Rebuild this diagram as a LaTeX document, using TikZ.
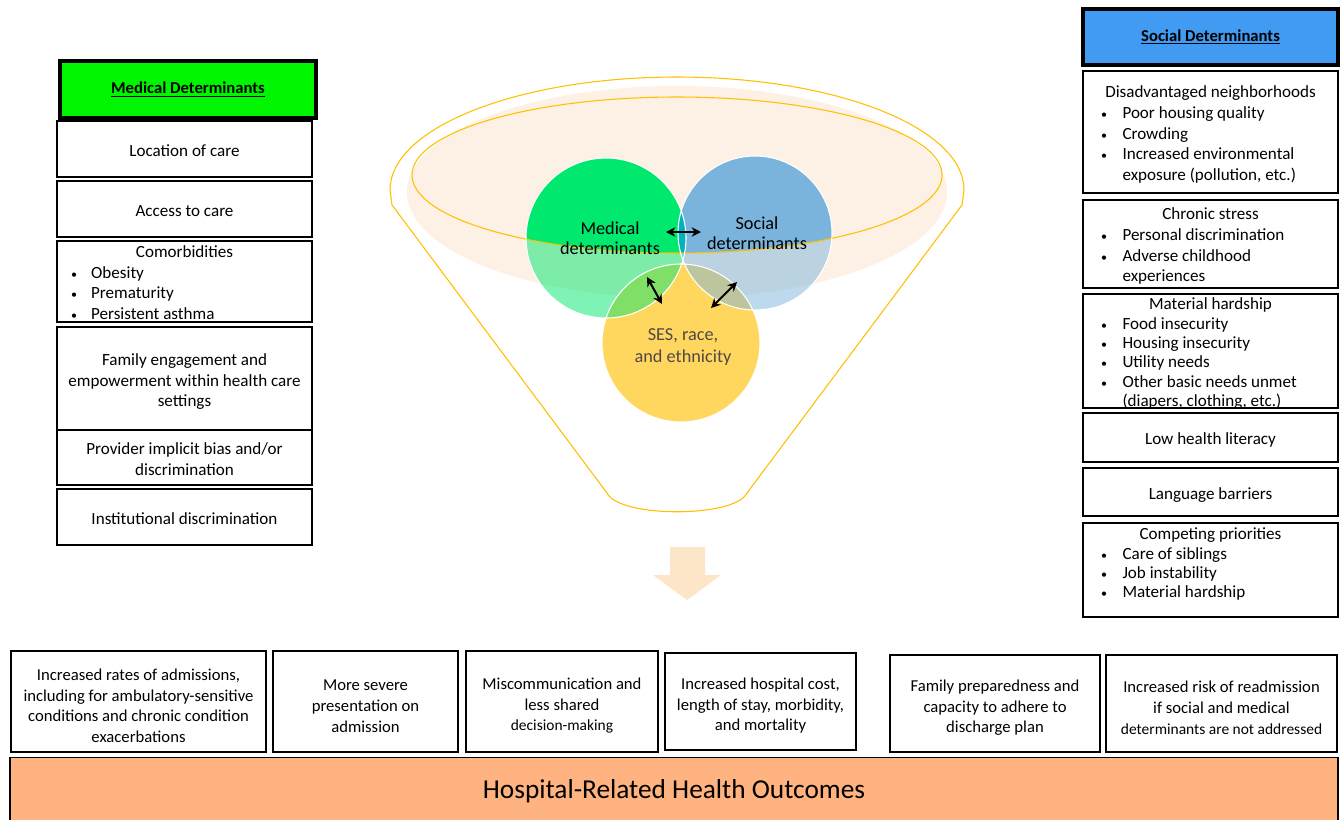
\documentclass[tikz,border=0pt]{standalone}
\usepackage{fontspec}
\setmainfont{Carlito}
\usetikzlibrary{arrows.meta}
\definecolor{medgreen}{RGB}{0,245,0}
\definecolor{socblue}{RGB}{66,155,242}
\definecolor{circgreen}{RGB}{0,232,110}
\definecolor{circblue}{RGB}{122,180,220}
\definecolor{circyellow}{RGB}{255,215,95}
\definecolor{lenscol}{RGB}{0,180,190}
\definecolor{funnelline}{RGB}{255,192,0}
\definecolor{funnelfill}{RGB}{253,239,226}
\definecolor{outcome}{RGB}{255,179,128}
\definecolor{downarrow}{RGB}{253,229,200}
\definecolor{sesgray}{RGB}{80,72,72}
\newcommand{\bul}{{\fontsize{9}{9}\selectfont\textbullet}}
\tikzset{
  cell/.style={draw, line width=1pt, inner sep=0pt, align=center,
    minimum width=191.25pt, font=\fontsize{12.8}{15.4}\selectfont},
  head/.style={cell, line width=2.6pt, font=\fontsize{12.5}{15}\selectfont\bfseries},
  outbox/.style={cell, minimum height=72.75pt, font=\fontsize{12.5}{15.5}\selectfont},
  twoway/.style={{Stealth[length=7pt,width=7pt]}-{Stealth[length=7pt,width=7pt]}, line width=1.5pt},
  circlab/.style={align=center, font=\fontsize{13.7}{15}\selectfont},
}
\begin{document}
\begin{tikzpicture}[x=0.75pt,y=-0.75pt]
\useasboundingbox (0,0) rectangle (1344,819);

\draw[funnelline, line width=0.8pt, fill=white] (390,190) arc (180:360:287 and 113)
  -- (962,205) -- (747,493) .. controls (735,518) and (619,518) .. (607,493) -- (392,205) -- cycle;
\fill[funnelfill, opacity=0.85] (677,192) ellipse (270 and 106);

\fill[circyellow] (681,343) circle (79);
\fill[circgreen, opacity=0.5] (606,238) circle (80);
\fill[circblue, opacity=0.5] (755,233) circle (77);
\begin{scope}
  \clip (677,175) ellipse (265 and 78);
  \fill[circgreen] (606,238) circle (80);
  \fill[circblue] (755,233) circle (77);
  \clip (606,238) circle (80);
  \fill[lenscol] (755,233) circle (77);
\end{scope}
\draw[funnelline, line width=0.8pt] (677,175) ellipse (265 and 78);
\draw[white, line width=0.8pt] (606,238) circle (80) (755,233) circle (77) (681,343) circle (79);

\node[circlab] (medlab) at (610,238) {Medical\\determinants};
\node[circlab] (soclab) at (757,233) {Social\\determinants};
\node[circlab, text=sesgray, font=\fontsize{13.7}{16.5}\selectfont] (seslab) at (683,347) {SES, race,\\and ethnicity};

\coordinate (ma) at (666,232);
\coordinate (sa) at (701,232);
\coordinate (mb) at (647,277);
\coordinate (yb) at (662,304);
\coordinate (sc) at (737,282);
\coordinate (yc) at (711,308);
\draw[twoway] (ma) -- (sa);
\draw[twoway] (mb) -- (yb);
\draw[twoway] (sc) -- (yc);

\fill[downarrow] (670,547) -- (705,547) -- (705,575) -- (721,575) -- (687,600) -- (653,575) -- (670,575) -- cycle;

\node[head, fill=medgreen, minimum width=192pt, minimum height=42.75pt] (medhead) at (188,89.5) {\underline{Medical Determinants}};
\node[cell, minimum height=42pt] (loc) at (184.5,149) {\rule{0pt}{11pt}Location of care};
\node[cell, minimum height=42pt] (acc) at (184.5,209) {\rule{0pt}{11pt}Access to care};
\node[cell, minimum height=60.75pt, font=\fontsize{12.8}{15.5}\selectfont] (comorb) at (184.5,281.5) {%
  \begin{tabular}{@{}p{15pt}@{}p{155pt}@{}}
  \multicolumn{2}{@{}c@{}}{\rule{0pt}{12.5pt}Comorbidities}\\
  \bul & Obesity\\
  \bul & Prematurity\\
  \bul & Persistent asthma\\[-2.85pt]
  \end{tabular}};
\node[cell, minimum height=77.25pt] (family) at (184.5,378.5) {\rule{0pt}{14pt}Family engagement and\\empowerment within health care\\settings};
\node[cell, minimum height=41.25pt] (bias) at (184.5,457.5) {\rule{0pt}{11pt}Provider implicit bias and/or\\discrimination};
\node[cell, minimum height=42pt] (inst) at (184.5,517) {\rule{0pt}{11pt}Institutional discrimination};

\node[head, fill=socblue, minimum height=42pt, line width=3pt] (sochead) at (1210.5,37) {\underline{Social Determinants}};
\node[cell, minimum height=91.5pt, font=\fontsize{12.8}{15.5}\selectfont] (neigh) at (1210.5,132) {%
  \begin{tabular}{@{}p{16pt}@{}p{148pt}@{}}
  \multicolumn{2}{@{}c@{}}{\rule{0pt}{20pt}Disadvantaged neighborhoods}\\
  \bul & Poor housing quality\\
  \bul & Crowding\\
  \bul & Increased environmental\\
  & exposure (pollution, etc.)\\[4.6pt]
  \end{tabular}};
\node[cell, minimum height=66pt, font=\fontsize{12.8}{15.5}\selectfont] (stress) at (1210.5,244) {%
  \begin{tabular}{@{}p{16pt}@{}p{148pt}@{}}
  \multicolumn{2}{@{}c@{}}{\rule{0pt}{14.7pt}Chronic stress}\\
  \bul & Personal discrimination\\
  \bul & Adverse childhood\\
  & experiences
  \end{tabular}};
\node[cell, minimum height=85.5pt, font=\fontsize{12.8}{14.55}\selectfont] (hardship) at (1210.5,351) {%
  \begin{tabular}{@{}p{16pt}@{}p{148pt}@{}}
  \multicolumn{2}{@{}c@{}}{\rule{0pt}{11.7pt}Material hardship}\\
  \bul & Food insecurity\\
  \bul & Housing insecurity\\
  \bul & Utility needs\\
  \bul & Other basic needs unmet\\
  & (diapers, clothing, etc.)\\[-3.3pt]
  \end{tabular}};
\node[cell, minimum height=36.75pt] (literacy) at (1210.5,437.5) {\rule{0pt}{12pt}Low health literacy};
\node[cell, minimum height=36pt] (language) at (1210.5,492) {\rule{0pt}{13pt}Language barriers};
\node[cell, minimum height=70.5pt, font=\fontsize{12.8}{14.5}\selectfont] (priorities) at (1210.5,570) {%
  \begin{tabular}{@{}p{16pt}@{}p{148pt}@{}}
  \multicolumn{2}{@{}c@{}}{\rule{0pt}{12.5pt}Competing priorities}\\
  \bul & Care of siblings\\
  \bul & Job instability\\
  \bul & Material hardship\\[10.15pt]
  \end{tabular}};

\node[outbox, minimum width=191.25pt, minimum height=75.75pt] (admit) at (138.5,701.5) {\rule{0pt}{15pt}Increased rates of admissions,\\including for ambulatory-sensitive\\conditions and chronic condition\\exacerbations};
\node[outbox, minimum width=138.75pt, minimum height=75.75pt] (severe) at (365.5,701.5) {\rule{0pt}{15pt}More severe\\presentation on\\admission};
\node[outbox, minimum width=144pt, minimum height=75.75pt] (miscomm) at (562,701.5) {\rule{0pt}{15pt}Miscommunication and\\less shared\\{\fontsize{11.6}{15.5}\selectfont decision-making}};
\node[outbox, minimum width=143.25pt] (cost) at (760.5,701.5) {\rule{0pt}{15pt}Increased hospital cost,\\length of stay, morbidity,\\and mortality};
\node[outbox, minimum width=157.5pt] (discharge) at (995,703.5) {\rule{0pt}{15pt}Family preparedness and\\capacity to adhere to\\discharge plan};
\node[outbox, minimum width=173.25pt] (readmit) at (1221.5,703.5) {\rule{0pt}{15pt}Increased risk of readmission\\if social and medical\\{\fontsize{11.6}{15.5}\selectfont determinants are not addressed}};

\node[cell, fill=outcome, anchor=north, minimum width=996pt, minimum height=51pt, font=\fontsize{20.5}{24}\selectfont] (outcomes) at (674,757) {Hospital-Related Health Outcomes};
\end{tikzpicture}
\end{document}
